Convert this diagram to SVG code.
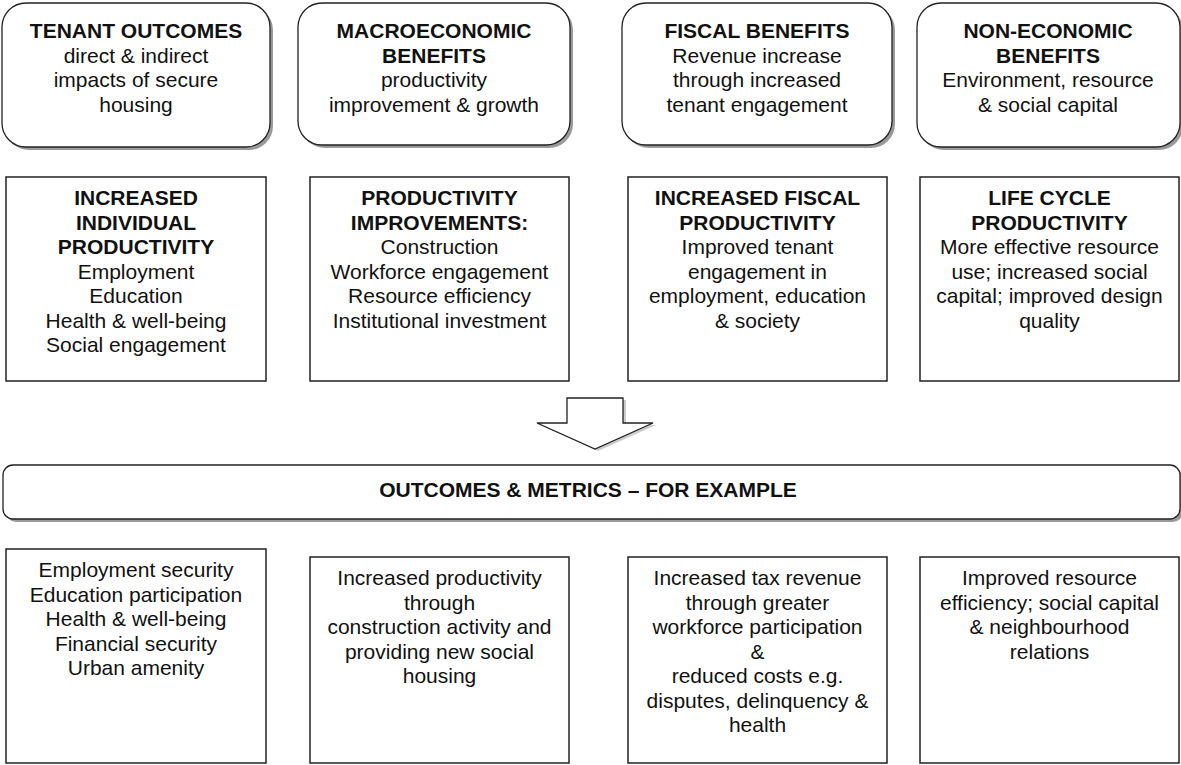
<svg xmlns="http://www.w3.org/2000/svg" width="1181" height="765" viewBox="0 0 1181 765">
<style>
  .bg{fill:#ffffff}
  .rbox{fill:#ffffff;stroke:#222;stroke-width:1.3}
  .shadow{fill:#9a9a9a;stroke:none}
  .box{fill:#ffffff;stroke:#222;stroke-width:1.5}
  text{font-family:"Liberation Sans",Arial,sans-serif;font-size:21px;fill:#111;text-anchor:middle}
  .b{font-weight:bold}
  .arrow{fill:#ffffff;stroke:#222;stroke-width:1.3}
</style>
<rect class="bg" x="0" y="0" width="1181" height="765"/>

<!-- Top row: rounded header boxes -->
<g id="tenant-outcomes">
  <rect class="shadow" x="5" y="6" width="268" height="144" rx="24"/>
  <rect class="rbox" x="2" y="3" width="268" height="144" rx="24"/>
  <text x="136" y="38"><tspan class="b">TENANT OUTCOMES</tspan><tspan x="136" y="62.5">direct &amp; indirect</tspan><tspan x="136" y="87">impacts of secure</tspan><tspan x="136" y="111.5">housing</tspan></text>
</g>
<g id="macroeconomic-benefits">
  <rect class="shadow" x="301" y="6" width="272" height="142" rx="24"/>
  <rect class="rbox" x="298" y="3" width="272" height="142" rx="24"/>
  <text x="434" y="38"><tspan class="b">MACROECONOMIC</tspan><tspan class="b" x="434" y="62.5">BENEFITS</tspan><tspan x="434" y="87">productivity</tspan><tspan x="434" y="111.5">improvement &amp; growth</tspan></text>
</g>
<g id="fiscal-benefits">
  <rect class="shadow" x="625" y="6" width="270" height="142" rx="24"/>
  <rect class="rbox" x="622" y="3" width="270" height="142" rx="24"/>
  <text x="757" y="38"><tspan class="b">FISCAL BENEFITS</tspan><tspan x="757" y="62.5">Revenue increase</tspan><tspan x="757" y="87">through increased</tspan><tspan x="757" y="111.5">tenant engagement</tspan></text>
</g>
<g id="non-economic-benefits">
  <rect class="shadow" x="920" y="6" width="263" height="144" rx="24"/>
  <rect class="rbox" x="917" y="3" width="263" height="144" rx="24"/>
  <text x="1048" y="38"><tspan class="b">NON-ECONOMIC</tspan><tspan class="b" x="1048" y="62.5">BENEFITS</tspan><tspan x="1048" y="87">Environment, resource</tspan><tspan x="1048" y="111.5">&amp; social capital</tspan></text>
</g>

<!-- Second row -->
<g id="increased-individual-productivity">
  <rect class="box" x="6" y="177" width="260" height="204"/>
  <text x="136" y="205"><tspan class="b">INCREASED</tspan><tspan class="b" x="136" y="229.5">INDIVIDUAL</tspan><tspan class="b" x="136" y="254">PRODUCTIVITY</tspan><tspan x="136" y="278.5">Employment</tspan><tspan x="136" y="303">Education</tspan><tspan x="136" y="327.5">Health &amp; well-being</tspan><tspan x="136" y="352">Social engagement</tspan></text>
</g>
<g id="productivity-improvements">
  <rect class="box" x="310" y="177" width="259" height="204"/>
  <text x="439.5" y="205"><tspan class="b">PRODUCTIVITY</tspan><tspan class="b" x="439.5" y="229.5">IMPROVEMENTS:</tspan><tspan x="439.5" y="254">Construction</tspan><tspan x="439.5" y="278.5">Workforce engagement</tspan><tspan x="439.5" y="303">Resource efficiency</tspan><tspan x="439.5" y="327.5">Institutional investment</tspan></text>
</g>
<g id="increased-fiscal-productivity">
  <rect class="box" x="628" y="177" width="259" height="204"/>
  <text x="757.5" y="205"><tspan class="b">INCREASED FISCAL</tspan><tspan class="b" x="757.5" y="229.5">PRODUCTIVITY</tspan><tspan x="757.5" y="254">Improved tenant</tspan><tspan x="757.5" y="278.5">engagement in</tspan><tspan x="757.5" y="303">employment, education</tspan><tspan x="757.5" y="327.5">&amp; society</tspan></text>
</g>
<g id="life-cycle-productivity">
  <rect class="box" x="920" y="177" width="259" height="204"/>
  <text x="1049.5" y="205"><tspan class="b">LIFE CYCLE</tspan><tspan class="b" x="1049.5" y="229.5">PRODUCTIVITY</tspan><tspan x="1049.5" y="254">More effective resource</tspan><tspan x="1049.5" y="278.5">use; increased social</tspan><tspan x="1049.5" y="303">capital; improved design</tspan><tspan x="1049.5" y="327.5">quality</tspan></text>
</g>

<!-- Connector: block arrow -->
<g id="connectors">
  <polygon class="shadow" points="570,400 626,400 626,425 656,425 598,451 540,425 570,425" opacity="0.5"/>
  <polygon class="arrow" points="567,398 623,398 623,423 653,423 595,449 537,423 567,423"/>
</g>

<!-- Banner -->
<g id="outcomes-metrics">
  <rect class="shadow" x="6" y="468" width="1177" height="54" rx="10"/>
  <rect class="rbox" x="3" y="465" width="1177" height="54" rx="10"/>
  <text class="b" x="588" y="497">OUTCOMES &amp; METRICS – FOR EXAMPLE</text>
</g>

<!-- Bottom row -->
<g id="tenant-metrics">
  <rect class="box" x="6" y="549" width="260" height="214"/>
  <text x="136" y="577"><tspan>Employment security</tspan><tspan x="136" y="601.5">Education participation</tspan><tspan x="136" y="626">Health &amp; well-being</tspan><tspan x="136" y="650.5">Financial security</tspan><tspan x="136" y="675">Urban amenity</tspan></text>
</g>
<g id="macro-metrics">
  <rect class="box" x="310" y="557" width="259" height="206"/>
  <text x="439.5" y="585"><tspan>Increased productivity</tspan><tspan x="439.5" y="609.5">through</tspan><tspan x="439.5" y="634">construction activity and</tspan><tspan x="439.5" y="658.5">providing new social</tspan><tspan x="439.5" y="683">housing</tspan></text>
</g>
<g id="fiscal-metrics">
  <rect class="box" x="628" y="557" width="259" height="206"/>
  <text x="757.5" y="585"><tspan>Increased tax revenue</tspan><tspan x="757.5" y="609.5">through greater</tspan><tspan x="757.5" y="634">workforce participation</tspan><tspan x="757.5" y="658.5">&amp;</tspan><tspan x="757.5" y="683">reduced costs e.g.</tspan><tspan x="757.5" y="707.5">disputes, delinquency &amp;</tspan><tspan x="757.5" y="732">health</tspan></text>
</g>
<g id="non-economic-metrics">
  <rect class="box" x="920" y="557" width="259" height="206"/>
  <text x="1049.5" y="585"><tspan>Improved resource</tspan><tspan x="1049.5" y="609.5">efficiency; social capital</tspan><tspan x="1049.5" y="634">&amp; neighbourhood</tspan><tspan x="1049.5" y="658.5">relations</tspan></text>
</g>
</svg>
